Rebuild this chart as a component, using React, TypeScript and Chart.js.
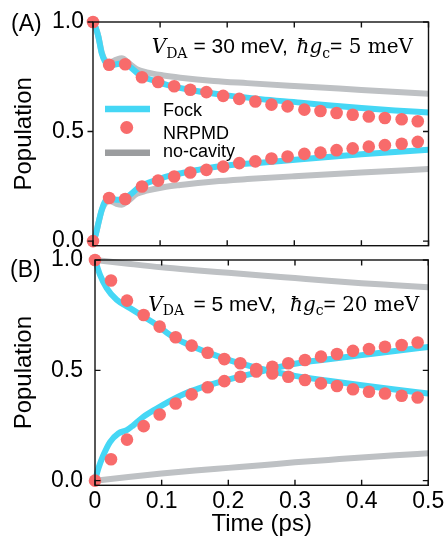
import React, { useEffect, useRef } from 'react';
import { Chart, registerables } from 'chart.js';

Chart.register(...registerables);

const SANS = '"Liberation Sans", Arial, Helvetica, sans-serif';
const SERIF = '"DejaVu Serif", "Liberation Serif", serif';

const CYAN = '#45D7F5';
const RED = '#F86B6B';
const GRAY = '#BEC1C4';
const GRAY_LEGEND = '#9B9D9F';

// ---- axes ----
const xTicks = [0, 0.1, 0.2, 0.3, 0.4, 0.5];
const xTickLabels = ['0', '0.1', '0.2', '0.3', '0.4', '0.5'];
const yTicks = [0, 0.5, 1.0];
const yTickLabels = ['0.0', '0.5', '1.0'];

// ---- NRPMD sample times (ps) ----
const tNRPMD = [0, 0.024, 0.048, 0.073, 0.097, 0.121, 0.145, 0.169, 0.194, 0.218, 0.242, 0.266, 0.290, 0.315, 0.339, 0.363, 0.387, 0.411, 0.435, 0.460, 0.484];

// ---- Panel A: V_DA = 30 meV, hg_c = 5 meV ----
const nrpmdDonorA = [1.0, 0.805, 0.807, 0.748, 0.726, 0.707, 0.691, 0.680, 0.663, 0.649, 0.637, 0.623, 0.615, 0.600, 0.594, 0.585, 0.577, 0.569, 0.562, 0.556, 0.547];
const nrpmdAcceptorA = [0.0, 0.197, 0.192, 0.249, 0.276, 0.295, 0.313, 0.325, 0.340, 0.356, 0.364, 0.377, 0.386, 0.398, 0.404, 0.415, 0.423, 0.431, 0.438, 0.444, 0.453];

const tFockA = [0, 0.004, 0.008, 0.013, 0.018, 0.025, 0.035, 0.045, 0.055, 0.07, 0.095, 0.12, 0.145, 0.17, 0.2, 0.25, 0.31, 0.35, 0.4, 0.45, 0.5];
const fockDonorA = [1.0, 0.975, 0.933, 0.857, 0.819, 0.804, 0.807, 0.812, 0.796, 0.758, 0.728, 0.705, 0.690, 0.678, 0.665, 0.648, 0.632, 0.620, 0.607, 0.596, 0.587];
const fockAcceptorA = [0.0, 0.03, 0.082, 0.143, 0.181, 0.196, 0.189, 0.189, 0.211, 0.249, 0.280, 0.303, 0.318, 0.333, 0.345, 0.358, 0.374, 0.384, 0.396, 0.407, 0.417];

const tNoCavA = [0, 0.004, 0.008, 0.013, 0.018, 0.025, 0.035, 0.043, 0.052, 0.065, 0.08, 0.105, 0.13, 0.18, 0.23, 0.3, 0.4, 0.5];
const noCavDonorA = [1.0, 0.975, 0.935, 0.862, 0.826, 0.815, 0.828, 0.834, 0.815, 0.785, 0.770, 0.756, 0.746, 0.731, 0.721, 0.708, 0.690, 0.672];
const noCavAcceptorA = [0.0, 0.03, 0.08, 0.14, 0.172, 0.183, 0.170, 0.166, 0.183, 0.215, 0.230, 0.246, 0.256, 0.272, 0.283, 0.296, 0.313, 0.329];

// ---- Panel B: V_DA = 5 meV, hg_c = 20 meV ----
const nrpmdDonorB = [1.0, 0.907, 0.816, 0.751, 0.698, 0.650, 0.612, 0.580, 0.551, 0.532, 0.506, 0.486, 0.471, 0.456, 0.441, 0.429, 0.414, 0.403, 0.395, 0.385, 0.377];
const nrpmdAcceptorB = [0.0, 0.097, 0.186, 0.247, 0.300, 0.350, 0.391, 0.423, 0.451, 0.471, 0.495, 0.516, 0.532, 0.547, 0.562, 0.574, 0.588, 0.597, 0.607, 0.615, 0.626];

const tFockDonorB = [0, 0.0075, 0.0175, 0.0325, 0.0525, 0.0725, 0.0926, 0.1126, 0.1326, 0.1527, 0.1727, 0.2, 0.25, 0.3, 0.35, 0.4, 0.45, 0.5];
const fockDonorB = [1.0, 0.933, 0.873, 0.820, 0.782, 0.744, 0.706, 0.660, 0.627, 0.600, 0.577, 0.547, 0.506, 0.475, 0.453, 0.432, 0.413, 0.395];
const tFockAcceptorB = [0, 0.005, 0.0125, 0.0225, 0.035, 0.0476, 0.0575, 0.0725, 0.0926, 0.1126, 0.1326, 0.1527, 0.1727, 0.2, 0.25, 0.3, 0.35, 0.4, 0.45, 0.5];
const fockAcceptorB = [0.0, 0.055, 0.115, 0.175, 0.214, 0.229, 0.251, 0.289, 0.327, 0.362, 0.392, 0.415, 0.435, 0.458, 0.495, 0.530, 0.550, 0.569, 0.588, 0.606];

const tNoCavB = [0, 0.05, 0.1, 0.15, 0.2, 0.25, 0.3, 0.35, 0.4, 0.45, 0.5];
const noCavDonorB = [1.0, 0.983, 0.967, 0.954, 0.942, 0.930, 0.918, 0.906, 0.895, 0.886, 0.877];
const noCavAcceptorB = [0.0, 0.017, 0.032, 0.046, 0.058, 0.070, 0.083, 0.094, 0.105, 0.115, 0.124];

const legendLabels = ['Fock', 'NRPMD', 'no-cavity'];

const pts = (t: number[], v: number[]) => t.map((x, i) => ({ x, y: v[i] }));

type Seg = { t: string; font: string; dy?: number; x?: number };
function drawRich(ctx: CanvasRenderingContext2D, y: number, segs: Seg[]) {
  let x = 0;
  ctx.textAlign = 'left';
  ctx.textBaseline = 'alphabetic';
  ctx.fillStyle = '#000';
  for (const s of segs) {
    if (s.x !== undefined) x = s.x;
    ctx.font = s.font;
    ctx.fillText(s.t, x, y + (s.dy || 0));
    x += ctx.measureText(s.t).width;
  }
}

function lineDs(label: string, data: any[], color: string, order: number) {
  return {
    label, data, borderColor: color, backgroundColor: color, borderWidth: 6,
    pointRadius: 0, fill: false, cubicInterpolationMode: 'monotone' as const,
    order, clip: 4,
  };
}
function dotDs(label: string, data: any[]) {
  return {
    label, data, showLine: false, pointRadius: 6.3, pointHoverRadius: 6.3,
    pointBackgroundColor: RED, pointBorderWidth: 0, borderColor: RED,
    backgroundColor: RED, order: 0, clip: false as const,
  };
}

function frameTicks(leftOutward: boolean) {
  return {
    id: 'frameTicks',
    afterDatasetsDraw(chart: any) {
      const { ctx, chartArea: a, scales } = chart;
      const xs = scales.x, ys = scales.y;
      const L = 5.5;
      ctx.save();
      ctx.strokeStyle = '#111';
      ctx.lineWidth = 1.4;
      ctx.strokeRect(a.left, a.top, a.right - a.left, a.bottom - a.top);
      ctx.beginPath();
      for (const v of xTicks) {
        const px = xs.getPixelForValue(v);
        ctx.moveTo(px, a.top); ctx.lineTo(px, a.top + L);
        ctx.moveTo(px, a.bottom); ctx.lineTo(px, a.bottom - L);
      }
      for (const v of yTicks) {
        const py = ys.getPixelForValue(v);
        ctx.moveTo(a.left, py); ctx.lineTo(a.left + (leftOutward ? -L : L), py);
        ctx.moveTo(a.right, py); ctx.lineTo(a.right - L, py);
      }
      ctx.stroke();
      ctx.restore();
    },
  };
}

function yScale(width: number, pad: number) {
  return {
    type: 'linear' as const, min: -0.021, max: 1.0,
    afterBuildTicks: (s: any) => { s.ticks = yTicks.map((v) => ({ value: v })); },
    ticks: {
      callback: (_v: any, i: number) => yTickLabels[i],
      font: { family: SANS, size: 23 }, color: '#000', padding: pad,
    },
    grid: { display: false, drawTicks: false },
    border: { display: false },
    title: {
      display: true, text: 'Population', color: '#000',
      font: { family: SANS, size: 24 }, padding: { top: 10, bottom: 0 },
    },
    afterFit: (s: any) => { s.width = width; s.paddingTop = 0; s.paddingBottom = 0; },
  };
}

export default function App() {
  const refA = useRef<HTMLCanvasElement>(null);
  const refB = useRef<HTMLCanvasElement>(null);

  useEffect(() => {
    const annA = {
      id: 'annA',
      afterDraw(chart: any) {
        const ctx = chart.ctx as CanvasRenderingContext2D;
        ctx.save();
        // panel label
        ctx.font = `23px ${SANS}`;
        ctx.fillStyle = '#000';
        ctx.textBaseline = 'alphabetic';
        ctx.fillText('(A)', 11, 30.7);
        drawRich(ctx, 53.3, [
          { t: 'V', font: `italic 20px ${SERIF}`, x: 151.7 },
          { t: 'DA', font: `14px ${SERIF}`, dy: 4.5 },
          { t: '= 30 meV,', font: `21px ${SANS}`, x: 193.5 },
          { t: 'ħ', font: `italic 20px ${SERIF}`, x: 296.5 },
          { t: 'g', font: `italic 20px ${SERIF}` },
          { t: 'c', font: `14px ${SERIF}`, dy: 4.5 },
          { t: '=', font: `21px ${SANS}` },
          { t: ' 5 meV', font: `20px ${SERIF}` },
        ]);
        // legend
        ctx.lineCap = 'butt';
        ctx.strokeStyle = CYAN; ctx.lineWidth = 6.3;
        ctx.beginPath(); ctx.moveTo(105, 109); ctx.lineTo(150, 109); ctx.stroke();
        ctx.fillStyle = RED;
        ctx.beginPath(); ctx.arc(126.7, 127.5, 6.5, 0, Math.PI * 2); ctx.fill();
        ctx.strokeStyle = GRAY_LEGEND; ctx.lineWidth = 6.5;
        ctx.beginPath(); ctx.moveTo(105, 152.7); ctx.lineTo(150, 152.7); ctx.stroke();
        ctx.fillStyle = '#000';
        ctx.font = `18px ${SANS}`;
        ctx.fillText(legendLabels[0], 163, 115.5);
        ctx.fillText(legendLabels[1], 163, 139);
        ctx.fillText(legendLabels[2], 163, 157);
        ctx.restore();
      },
    };
    const annB = {
      id: 'annB',
      afterDraw(chart: any) {
        const ctx = chart.ctx as CanvasRenderingContext2D;
        ctx.save();
        ctx.font = `23px ${SANS}`;
        ctx.fillStyle = '#000';
        ctx.textBaseline = 'alphabetic';
        ctx.fillText('(B)', 10, 37.3);
        drawRich(ctx, 70.5, [
          { t: 'V', font: `italic 20px ${SERIF}`, x: 148.3 },
          { t: 'DA', font: `14px ${SERIF}`, dy: 4.5 },
          { t: '= 5 meV,', font: `21px ${SANS}`, x: 193.5 },
          { t: 'ħ', font: `italic 20px ${SERIF}`, x: 290 },
          { t: 'g', font: `italic 20px ${SERIF}` },
          { t: 'c', font: `14px ${SERIF}`, dy: 4.5 },
          { t: '=', font: `21px ${SANS}` },
          { t: ' 20 meV', font: `20px ${SERIF}` },
        ]);
        ctx.restore();
      },
    };

    const chartA = new Chart(refA.current!, {
      type: 'line',
      data: {
        datasets: [
          dotDs('NRPMD donor', pts(tNRPMD, nrpmdDonorA)),
          dotDs('NRPMD acceptor', pts(tNRPMD, nrpmdAcceptorA)),
          lineDs('Fock donor', pts(tFockA, fockDonorA), CYAN, 1),
          lineDs('Fock acceptor', pts(tFockA, fockAcceptorA), CYAN, 1),
          lineDs('no-cavity donor', pts(tNoCavA, noCavDonorA), GRAY, 2),
          lineDs('no-cavity acceptor', pts(tNoCavA, noCavAcceptorA), GRAY, 2),
        ] as any,
      },
      options: {
        responsive: false, maintainAspectRatio: false, animation: false,
        layout: { padding: { top: 22, right: 41.5, bottom: 6, left: 0 } },
        plugins: { legend: { display: false }, tooltip: { enabled: false } },
        events: [],
        scales: {
          x: { type: 'linear', min: 0, max: 0.5, display: false },
          y: yScale(93, 9) as any,
        },
      },
      plugins: [frameTicks(true), annA],
    });

    const chartB = new Chart(refB.current!, {
      type: 'line',
      data: {
        datasets: [
          dotDs('NRPMD donor', pts(tNRPMD, nrpmdDonorB)),
          dotDs('NRPMD acceptor', pts(tNRPMD, nrpmdAcceptorB)),
          lineDs('Fock donor', pts(tFockDonorB, fockDonorB), CYAN, 1),
          lineDs('Fock acceptor', pts(tFockAcceptorB, fockAcceptorB), CYAN, 1),
          lineDs('no-cavity donor', pts(tNoCavB, noCavDonorB), GRAY, 2),
          lineDs('no-cavity acceptor', pts(tNoCavB, noCavAcceptorB), GRAY, 2),
        ] as any,
      },
      options: {
        responsive: false, maintainAspectRatio: false, animation: false,
        layout: { padding: { top: 20, right: 41.7, bottom: 0, left: 0 } },
        plugins: { legend: { display: false }, tooltip: { enabled: false } },
        events: [],
        scales: {
          x: {
            type: 'linear', min: 0, max: 0.5,
            afterBuildTicks: (s: any) => { s.ticks = xTicks.map((v) => ({ value: v })); },
            ticks: {
              callback: (_v: any, i: number) => xTickLabels[i],
              font: { family: SANS, size: 23 }, color: '#000', padding: 3,
              maxRotation: 0, autoSkip: false,
            },
            grid: { display: false, drawTicks: false },
            border: { display: false },
            title: {
              display: true, text: 'Time (ps)', color: '#000',
              font: { family: SANS, size: 24 }, padding: { top: 0, bottom: 5 },
            },
            afterFit: (s: any) => { s.height = 58.7; s.paddingLeft = 0; s.paddingRight = 0; },
          } as any,
          y: yScale(95, 12) as any,
        },
      },
      plugins: [frameTicks(false), annB],
    });

    return () => { chartA.destroy(); chartB.destroy(); };
  }, []);

  return (
    <div style={{ position: 'fixed', left: 0, top: 0, width: 445, height: 544, overflow: 'hidden', background: '#fff' }}>
      <canvas ref={refA} width={470} height={252} style={{ position: 'absolute', left: 0, top: 0 }} />
      <canvas ref={refB} width={470} height={304} style={{ position: 'absolute', left: 0, top: 240 }} />
    </div>
  );
}
